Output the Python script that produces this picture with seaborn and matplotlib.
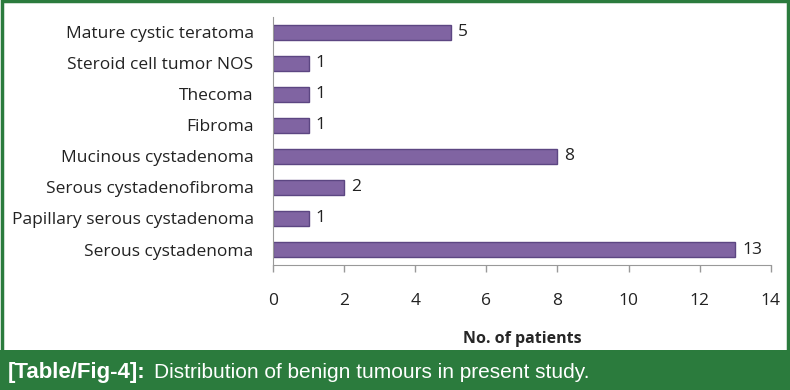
import matplotlib
matplotlib.use("Agg")
import matplotlib.pyplot as plt
from matplotlib.patches import Rectangle
import pandas as pd
import seaborn as sns

sns.set_style("white")
plt.rcParams['font.family'] = ['Open Sans', 'DejaVu Sans']

# data (top to bottom)
tumours = ["Mature cystic teratoma", "Steroid cell tumor NOS", "Thecoma", "Fibroma",
           "Mucinous cystadenoma", "Serous cystadenofibroma",
           "Papillary serous cystadenoma", "Serous cystadenoma"]
patients = [5, 1, 1, 1, 8, 2, 1, 13]
x_ticks = [0, 2, 4, 6, 8, 10, 12, 14]

df = pd.DataFrame({"tumour": tumours, "patients": patients})

fig = plt.figure(figsize=(7.9, 3.9), dpi=100)
ax = fig.add_axes([0.3456, 0.3205, 0.630, 0.636])

sns.barplot(data=df, x="patients", y="tumour", order=tumours, orient="h",
            color="#8064a2", saturation=1, width=0.46,
            edgecolor="#5c4682", linewidth=1.0, ax=ax)

for i, v in enumerate(patients):
    ax.text(v + 0.2, i, str(v), va="center", ha="left", fontsize=12.5, color="#222222")

ax.set_xlim(0, 14)
ax.set_xticks(x_ticks)
ax.set_xlabel("No. of patients", fontsize=11.5, fontweight="bold", labelpad=16)
ax.set_ylabel("")
ax.tick_params(axis="x", labelsize=12.5, colors="#222222", length=5, width=1,
               color="#999999", pad=15, direction="out", bottom=True)
ax.tick_params(axis="y", labelsize=12.5, colors="#222222", length=0, pad=14)
for s in ["top", "right"]:
    ax.spines[s].set_visible(False)
ax.spines["left"].set_color("#999999")
ax.spines["bottom"].set_color("#999999")
ax.grid(False)

# caption band and border
fig.patches.append(Rectangle((0, 0), 1, 0.1026, transform=fig.transFigure,
                             facecolor="#2b7b3d", edgecolor="none", zorder=0))
fig.patches.append(Rectangle((0.002, 0.003), 0.996, 0.994, transform=fig.transFigure,
                             facecolor="none", edgecolor="#2b7b3d", linewidth=2.5))
cap_font = ["Liberation Sans", "DejaVu Sans"]
cap1 = fig.text(0.010, 0.046, "[Table/Fig-4]:", color="white", fontsize=16,
                fontweight="bold", va="center", ha="left", family=cap_font)
fig.canvas.draw()
bb = cap1.get_window_extent(fig.canvas.get_renderer())
x2 = bb.x1 / fig.bbox.width + 0.010
fig.text(x2, 0.046, "Distribution of benign tumours in present study.", color="white",
         fontsize=15, va="center", ha="left", family=cap_font)

fig.savefig("out.png", dpi=100)
